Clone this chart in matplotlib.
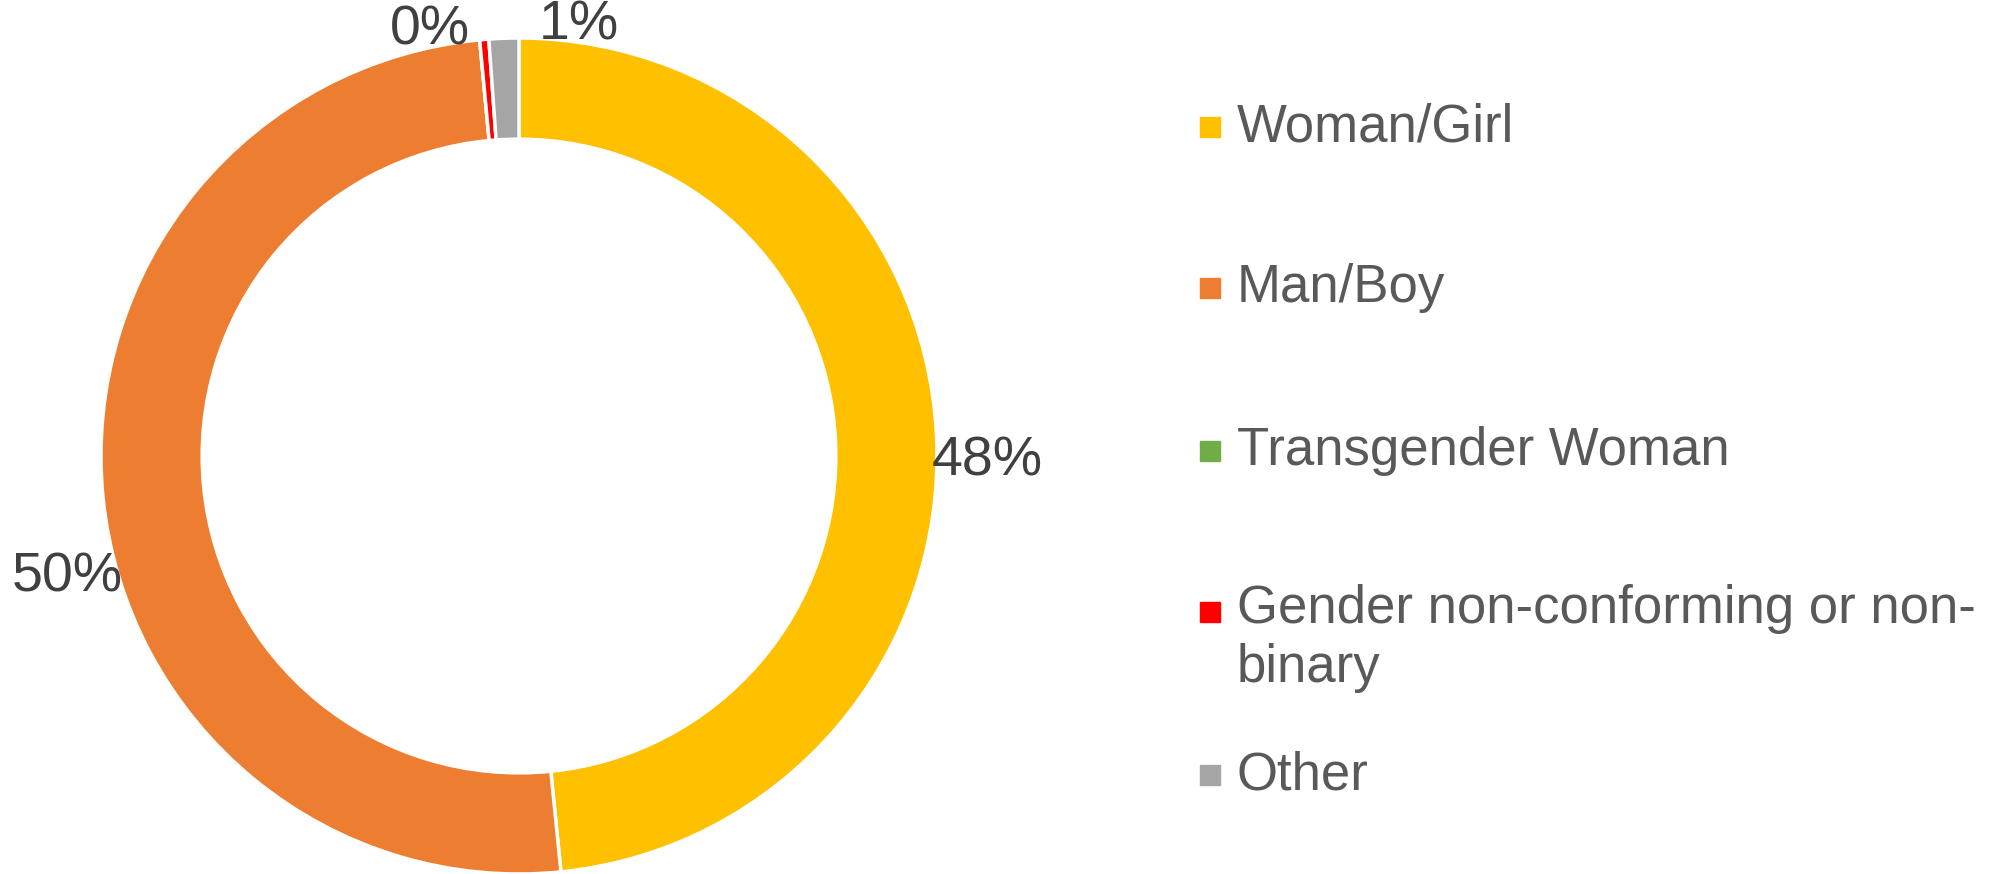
import numpy as np
import matplotlib
matplotlib.use("Agg")
import matplotlib.pyplot as plt
from matplotlib.patches import Rectangle

plt.rcParams['font.family'] = ['Liberation Sans', 'DejaVu Sans']

categories = ["Woman/Girl", "Man/Boy", "Transgender Woman",
              "Gender non-conforming or non-\nbinary", "Other"]
shares = [48.4, 50.1, 0.0, 0.35, 1.15]
colors = ["#FFC000", "#ED7D31", "#70AD47", "#FF0000", "#A5A5A5"]

W, H = 2015, 874
fig = plt.figure(figsize=(W / 100, H / 100), dpi=100)
ax = fig.add_axes([0, 0, 1, 1])

cx, cy, R = 519, H - 456, 418
wedges, _ = ax.pie(shares, colors=colors, startangle=90, counterclock=False,
                   radius=R, center=(cx, cy), frame=True,
                   wedgeprops=dict(width=0.242 * R, edgecolor='white', linewidth=2.5))
ax.set_xlim(0, W)
ax.set_ylim(0, H)
ax.axis('off')

# data labels outside the ring; (angle nudge, radius factor) like Excel's best fit
nudge = {0: (-3.6, 1.12), 1: (9.5, 1.12), 3: (7, 1.04), 4: (-10, 1.04)}
for i, (w, v) in enumerate(zip(wedges, shares)):
    if v == 0:
        continue
    mid = (w.theta1 + w.theta2) / 2
    da, rf = nudge.get(i, (0, 1.12))
    a = np.deg2rad(mid + da)
    ax.text(cx + rf * R * np.cos(a), cy + rf * R * np.sin(a), f"{v:.0f}%",
            ha='center', va='center', fontsize=40, color='#404040')

# legend
leg_y = [127, 288, 451, 612, 775]
for name, col, y in zip(categories, colors, leg_y):
    ax.add_patch(Rectangle((1200, H - y - 10), 20, 20, color=col))
    if '\n' in name:
        ax.text(1237, H - y + 28, name, ha='left', va='top',
                fontsize=38, color='#595959', linespacing=1.24)
    else:
        ax.text(1237, H - y, name, ha='left', va='center',
                fontsize=38, color='#595959')

fig.savefig("out.png", dpi=100)
